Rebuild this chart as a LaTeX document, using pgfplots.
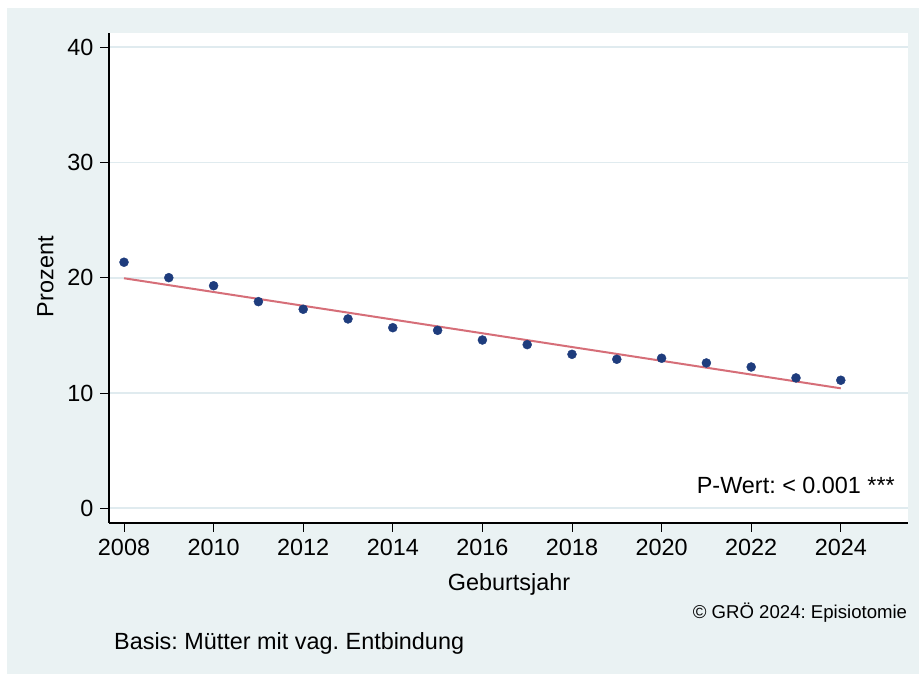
\documentclass[border=0pt]{standalone}
\usepackage{pgfplots}
\pgfplotsset{compat=1.18}
\usepackage{fontspec}
\setmainfont{Liberation Sans}
\frenchspacing
\definecolor{bgc}{RGB}{234,242,243}
\definecolor{gridc}{RGB}{224,235,239}
\definecolor{navyc}{RGB}{30,60,125}
\definecolor{linec}{RGB}{214,110,120}
\begin{document}
\begin{tikzpicture}[x=1pt,y=1pt]
\fill[white] (0,0) rectangle (919,674);
\useasboundingbox (0,0) rectangle (919,674);
\fill[bgc] (7,0) rectangle (919,666);
\begin{axis}[
  at={(109pt,151pt)}, anchor=south west,
  scale only axis, width=799.3pt, height=490pt,
  xmin=2007.665, xmax=2025.507,
  ymin=-1.276, ymax=41.24,
  axis background/.style={fill=white},
  axis x line*=bottom, axis y line*=left,
  axis line style={black, line width=1.2pt},
  xtick={2008,2010,...,2024},
  ytick={0,10,20,30,40},
  ymajorgrids, grid style={gridc, line width=1.6pt},
  tick align=outside, major tick length=9pt,
  every tick/.style={black, line width=0.9pt},
  xtick pos=bottom, ytick pos=left,
  /pgf/number format/assume math mode=true,
  /pgf/number format/1000 sep={},
  tick label style={font=\fontsize{23.4}{27}\selectfont},
  xticklabel style={yshift=-4pt},
  yticklabel style={xshift=-3pt},
  clip=false,
]
\addplot[only marks, mark=*, mark size=4.5pt, mark options={fill=navyc, draw=navyc}] coordinates {
(2008,21.35) (2009,20.01) (2010,19.31) (2011,17.93) (2012,17.27) (2013,16.43)
(2014,15.67) (2015,15.44) (2016,14.60) (2017,14.20) (2018,13.36) (2019,12.93)
(2020,13.02) (2021,12.61) (2022,12.26) (2023,11.31) (2024,11.11)};
\addplot[linec, line width=2pt] coordinates {(2008,19.96) (2024,10.41)};
\end{axis}
\node[anchor=base east, inner sep=0, font=\fontsize{23.4}{27}\selectfont] at (895,180) {P-Wert: < 0.001 ***};
\node[anchor=base, inner sep=0, font=\fontsize{23.4}{27}\selectfont] at (509,83.3) {Geburtsjahr};
\node[anchor=base, inner sep=0, rotate=90, font=\fontsize{23.4}{27}\selectfont] at (53.3,397.3) {Prozent};
\node[anchor=base east, inner sep=0, font=\fontsize{18.6}{22}\selectfont] at (907.3,55) {© GRÖ 2024: Episiotomie};
\node[anchor=base west, inner sep=0, font=\fontsize{23.4}{27}\selectfont] at (114,24.7) {Basis: Mütter mit vag. Entbindung};
\end{tikzpicture}
\end{document}
